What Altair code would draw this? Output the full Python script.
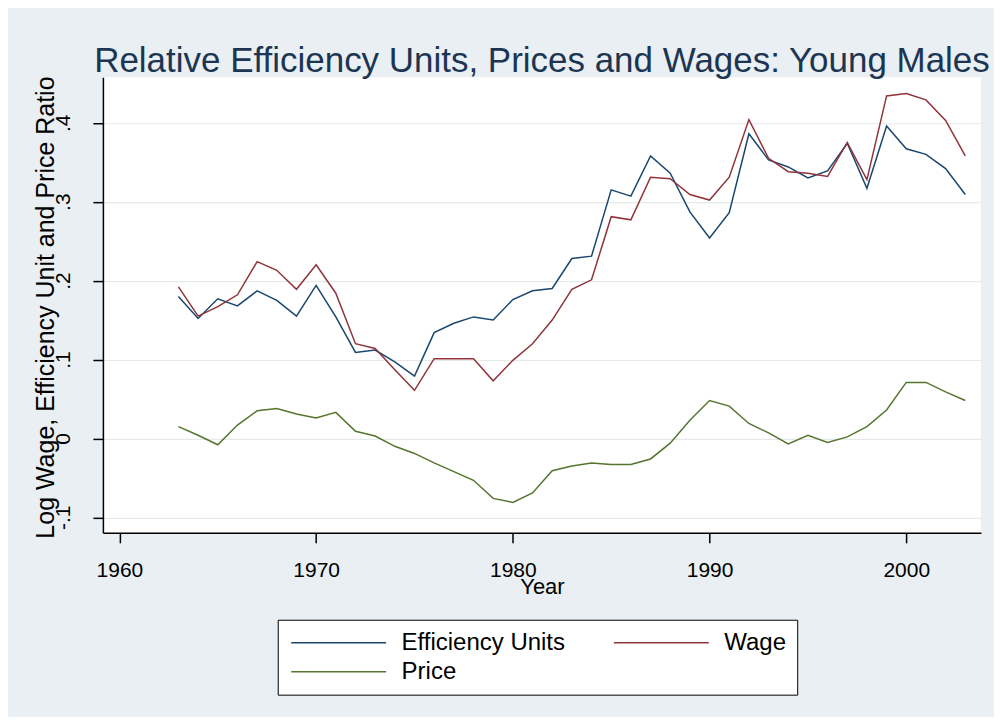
import altair as alt
import pandas as pd

years = list(range(1963, 2004))

efficiency_units = [0.180, 0.152, 0.177, 0.168, 0.187, 0.175, 0.155, 0.194, 0.154, 0.109,
                    0.112, 0.097, 0.079, 0.134, 0.146, 0.154, 0.150, 0.176, 0.187, 0.190,
                    0.228, 0.231, 0.315, 0.307, 0.358, 0.336, 0.287, 0.254, 0.286, 0.386,
                    0.353, 0.344, 0.330, 0.339, 0.374, 0.317, 0.396, 0.367, 0.360, 0.342,
                    0.309]

wage = [0.192, 0.155, 0.167, 0.182, 0.224, 0.213, 0.189, 0.220, 0.184, 0.120,
        0.114, 0.087, 0.061, 0.101, 0.101, 0.101, 0.073, 0.099, 0.120, 0.150,
        0.189, 0.201, 0.281, 0.277, 0.331, 0.329, 0.309, 0.302, 0.331, 0.404,
        0.355, 0.338, 0.336, 0.332, 0.375, 0.328, 0.434, 0.437, 0.429, 0.403,
        0.358]

price = [0.015, 0.004, -0.008, 0.017, 0.035, 0.038, 0.031, 0.026, 0.033, 0.009,
         0.003, -0.010, -0.019, -0.031, -0.042, -0.053, -0.076, -0.081, -0.069, -0.041,
         -0.035, -0.031, -0.033, -0.033, -0.026, -0.006, 0.023, 0.048, 0.041, 0.019,
         0.007, -0.007, 0.004, -0.005, 0.002, 0.015, 0.036, 0.071, 0.071, 0.059,
         0.048]

series_names = ["Efficiency Units", "Wage", "Price"]
series_colors = ["#1a476f", "#90353b", "#55752f"]
y_ticks = [-0.1, 0.0, 0.1, 0.2, 0.3, 0.4]
x_ticks = [1960, 1970, 1980, 1990, 2000]

rows = []
for name, vals in zip(series_names, [efficiency_units, wage, price]):
    for yr, v in zip(years, vals):
        rows.append({"Year": yr, "value": v, "series": name})
df = pd.DataFrame(rows)

FONT = "Liberation Sans"

y_label_expr = ("abs(datum.value) < 1e-9 ? '0' : (datum.value < 0 ? '-' + substring(format(-datum.value, '.1f'), 1)"
                " : substring(format(datum.value, '.1f'), 1))")

chart = alt.Chart(df).mark_line(strokeWidth=1.5).encode(
    x=alt.X("Year:Q",
            scale=alt.Scale(domain=[1959.16, 2003.8], nice=False, zero=False),
            axis=alt.Axis(values=x_ticks, format="d", grid=False, title="Year",
                          labelFontSize=21, labelFont=FONT, labelColor="#000000",
                          labelPadding=17, tickSize=10, tickColor="#000000",
                          domainColor="#000000", domainWidth=1.5, tickWidth=1.5,
                          titleFont=FONT, titleFontSize=22, titleFontWeight="normal",
                          titleColor="#000000", titleY=54, titleBaseline="middle")),
    y=alt.Y("value:Q",
            scale=alt.Scale(domain=[-0.1196, 0.4576], nice=False, zero=False),
            axis=alt.Axis(values=y_ticks, labelExpr=y_label_expr, labelAngle=270,
                          labelAlign="center", labelBaseline="bottom",
                          labelFontSize=21, labelFont=FONT, labelColor="#000000",
                          labelPadding=19, tickSize=10, tickColor="#000000",
                          domainColor="#000000", domainWidth=1.5, tickWidth=1.5,
                          grid=True, gridColor="#e6e9ea", gridWidth=1.2,
                          title="Log Wage, Efficiency Unit and Price Ratio",
                          titleFont=FONT, titleFontSize=25, titleFontWeight="normal",
                          titleColor="#000000", titleAngle=270, titleX=-57, titleY=230,
                          titleAlign="center", titleBaseline="middle")),
    color=alt.Color("series:N",
                    scale=alt.Scale(domain=series_names, range=series_colors),
                    legend=alt.Legend(title=None, orient="none", legendX=175, legendY=543,
                                      columns=2, columnPadding=45, rowPadding=5,
                                      symbolType="M-1,0H9", symbolSize=361,
                                      symbolStrokeWidth=1.5, labelFontSize=24,
                                      labelFont=FONT, labelColor="#000000", labelOffset=89,
                                      labelLimit=0,
                                      padding=11, strokeColor="#000000", fillColor="#ffffff",
                                      direction="horizontal")),
    order=alt.Order("Year:Q"),
).properties(
    width=879,
    height=456,
    title=alt.TitleParams("Relative Efficiency Units, Prices and Wages: Young Males",
                          font=FONT, fontSize=35, fontWeight="normal", color="#1c3552",
                          anchor="middle", offset=-3),
    background="#e9eff2",
    padding={"left": 95, "top": 69, "right": 13, "bottom": 184},
    autosize=alt.AutoSizeParams(type="none"),
).configure_view(
    fill="#ffffff", stroke=None
)

chart.save("out.html", embed_options={"renderer": "svg", "actions": False})
